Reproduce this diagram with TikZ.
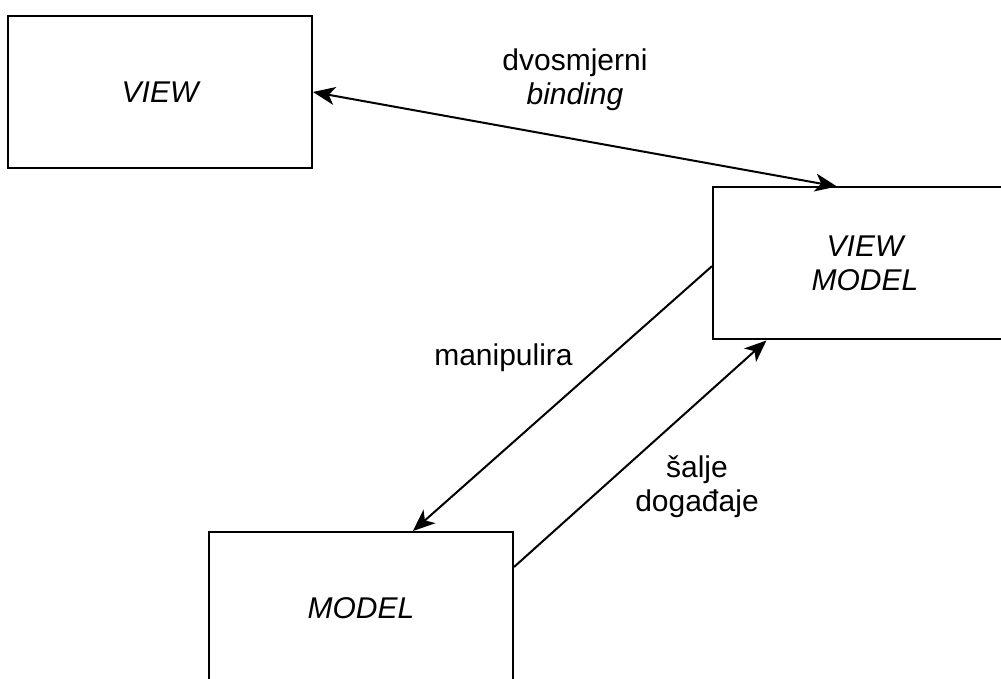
\documentclass[tikz,border=0pt]{standalone}
\usepackage{fontspec}
\setmainfont{Liberation Sans}
\usetikzlibrary{arrows.meta}
\tikzset{
  box/.style={draw, line width=2pt, minimum width=304pt, minimum height=152pt, inner sep=0pt, font=\fontsize{30}{34}\selectfont\itshape, align=center},
  lbl/.style={font=\fontsize{30}{34}\selectfont, align=center},
  conn/.style={line width=2pt, -{Stealth[length=22pt, width=18pt, inset=6pt]}},
  bothconn/.style={line width=2pt, {Stealth[length=22pt, width=18pt, inset=6pt]}-{Stealth[length=22pt, width=18pt, inset=6pt]}}
}
\begin{document}
\begin{tikzpicture}[x=1pt, y=1pt]
\useasboundingbox (0,0) rectangle (1001,678);
\node[box] (vw) at (160,586){VIEW};
\node[box] (vm) at (865,414.5){VIEW\\MODEL};
\node[box] (md) at (361,70){MODEL};
\node[lbl] (lblbind) at (575,598){dvosmjerni\\\textit{binding}};
\node[lbl] (lblmanip) at (503.5,320){manipulira};
\node[lbl] (lblsalje) at (697,191){šalje\\događaje};
\draw[bothconn] (vw.east) -- (vm.110);
\draw[conn] (vm.181) -- (md.56);
\draw[conn] (md.15) -- (vm.218);
\end{tikzpicture}
\end{document}
